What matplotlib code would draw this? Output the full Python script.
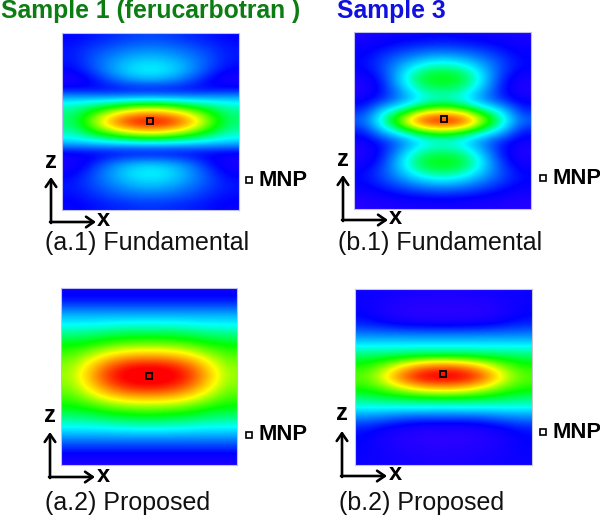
#!/usr/bin/env python3
from matplotlib import pyplot as plt
from matplotlib.colors import LinearSegmentedColormap
import numpy as np

plt.rcParams['font.family'] = ['Liberation Sans', 'DejaVu Sans']

# field strength, rows top to bottom, columns edge to centre
a1_half = [
    [.10, .12, .14, .16, .17],
    [.12, .16, .19, .22, .23],
    [.12, .18, .24, .28, .30],
    [.10, .17, .26, .33, .36],
    [.04, .10, .19, .26, .28],
    [.12, .10, .09, .09, .09],
    [.34, .35, .36, .38, .39],
    [.42, .50, .59, .68, .72],
    [.44, .58, .80, .96, 1.0],
    [.40, .49, .58, .66, .70],
    [.31, .33, .35, .36, .37],
    [.08, .08, .08, .08, .08],
    [.05, .12, .22, .28, .30],
    [.09, .17, .26, .33, .36],
    [.12, .17, .23, .28, .30],
    [.11, .14, .18, .21, .22],
    [.09, .11, .13, .14, .15],
]
b1_half = [
    [.05, .07, .08, .09, .10],
    [.08, .11, .14, .16, .17],
    [.10, .16, .22, .27, .30],
    [.10, .17, .30, .41, .44],
    [.05, .14, .35, .49, .51],
    [.03, .12, .29, .42, .44],
    [.08, .14, .24, .34, .38],
    [.13, .33, .43, .56, .62],
    [.20, .42, .64, .94, 1.0],
    [.12, .31, .43, .54, .60],
    [.07, .13, .22, .32, .35],
    [.03, .12, .29, .42, .44],
    [.06, .15, .35, .49, .51],
    [.10, .18, .30, .41, .44],
    [.10, .15, .21, .27, .30],
    [.06, .09, .12, .14, .15],
    [.03, .04, .05, .06, .06],
]
a2_half = [
    [.08, .08, .08, .08, .08],
    [.15, .15, .15, .15, .15],
    [.27, .27, .27, .27, .27],
    [.35, .35, .36, .37, .37],
    [.43, .44, .46, .47, .47],
    [.50, .52, .56, .58, .59],
    [.55, .62, .70, .75, .76],
    [.59, .71, .86, .94, .96],
    [.60, .75, .92, .99, 1.0],
    [.58, .70, .84, .92, .94],
    [.54, .61, .69, .74, .75],
    [.49, .51, .55, .57, .58],
    [.42, .43, .45, .46, .47],
    [.34, .34, .35, .36, .36],
    [.23, .23, .23, .23, .23],
    [.13, .13, .13, .13, .13],
    [.05, .05, .05, .05, .05],
]
b2_half = [
    [.08, .07, .06, .05, .05],
    [.08, .05, .03, .02, .02],
    [.10, .05, .02, .01, .01],
    [.14, .12, .10, .09, .09],
    [.24, .24, .24, .24, .24],
    [.35, .35, .35, .35, .35],
    [.45, .46, .47, .48, .48],
    [.52, .59, .71, .82, .86],
    [.56, .67, .88, .99, 1.0],
    [.52, .57, .66, .74, .77],
    [.44, .46, .47, .48, .48],
    [.35, .35, .35, .35, .35],
    [.22, .20, .17, .16, .16],
    [.12, .08, .05, .03, .03],
    [.10, .05, .03, .01, .01],
    [.09, .06, .04, .03, .02],
    [.08, .07, .06, .05, .05],
]

sample_titles = ["Sample 1 (ferucarbotran )", "Sample 3"]
captions = ["(a.1) Fundamental", "(b.1) Fundamental", "(a.2) Proposed", "(b.2) Proposed"]

cmap = LinearSegmentedColormap.from_list("field", [
    (0.0, "#3000ff"), (0.1, "#0000ff"), (0.35, "#00ffff"),
    (0.5, "#00ff00"), (0.67, "#ffff00"), (0.95, "#ff0000"), (1.0, "#ff0000")])

W, H = 600, 518
fig = plt.figure(figsize=(W / 100, H / 100), dpi=100)

# whole figure overlay in pixel coordinates for the annotations
over = fig.add_axes([0, 0, 1, 1], zorder=5)
over.set_xlim(0, W)
over.set_ylim(H, 0)
over.axis("off")


def draw_panel(half, left, top, width, height, border):
    ax = fig.add_axes([left / W, 1 - (top + height) / H, width / W, height / H])
    half = np.array(half)
    full = np.hstack([half, half[:, -2::-1]])
    ax.imshow(full, cmap=cmap, vmin=0, vmax=1, aspect="auto", interpolation="bicubic")
    ax.set_xticks([])
    ax.set_yticks([])
    for s in ax.spines.values():
        s.set_color(border)
        s.set_linewidth(0.8)
    return ax


def draw_axes_key(x0, y0, zy, xx):
    head = "->,head_width=0.38,head_length=0.55"
    over.annotate("", xy=(x0, y0 - 45), xytext=(x0, y0 + 1),
                  arrowprops=dict(arrowstyle=head, lw=1.9, color="black", shrinkA=0, shrinkB=0))
    over.annotate("", xy=(x0 + 45, y0), xytext=(x0 - 1, y0),
                  arrowprops=dict(arrowstyle=head, lw=1.9, color="black", shrinkA=0, shrinkB=0))
    over.text(x0, zy, "z", fontsize=17, fontweight="bold", ha="center", va="center")
    over.text(xx, y0 - 2, "x", fontsize=17, fontweight="bold", ha="center", va="center")


panels = [
    (a1_half, 62, 33, 177, 177, "#c0c0f0", (150, 121), (249, 180), (51, 222, 161, 103), (45, 243)),
    (b1_half, 354, 32, 177, 177, "#c0c0f0", (444, 119), (543, 178), (343, 220, 160, 395), (338, 243)),
    (a2_half, 61, 288, 176, 177, "#c0c0f0", (149, 376), (249, 435), (50, 477, 416, 103), (45, 503)),
    (b2_half, 355, 289, 177, 176, "#c8c8c8", (443, 374), (543, 432), (342, 476, 414, 395), (339, 503)),
]

for i, p in enumerate(panels):
    half, left, top, width, height, border, mnp, key, arrows, cap = p
    draw_panel(half, left, top, width, height, border)
    over.plot(*mnp, "s", ms=4.5, mfc="none", mec="black", mew=1.3)
    over.plot(*key, "s", ms=4.5, mfc="white", mec="black", mew=1.2)
    over.text(key[0] + 9, key[1], "MNP", fontsize=15.8, fontweight="bold", va="center")
    draw_axes_key(*arrows)
    over.text(cap[0], cap[1], captions[i], fontsize=18, va="center", color="#111111")

over.text(1, 11, sample_titles[0], fontsize=17.8, fontweight="bold", color="#0c7d12", va="center")
over.text(337, 11, sample_titles[1], fontsize=17.8, fontweight="bold", color="#1010e0", va="center")

fig.savefig("out.png", dpi=100)
